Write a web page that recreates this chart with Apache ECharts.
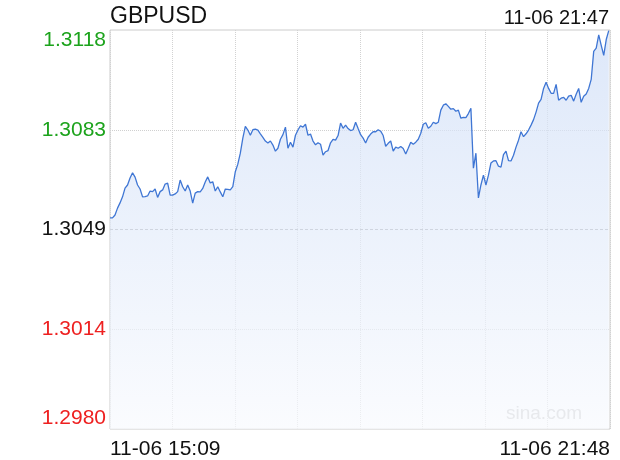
<!DOCTYPE html>
<html><head><meta charset="utf-8">
<script src="https://cdn.jsdelivr.net/npm/echarts@6/dist/echarts.min.js"></script>
<style>html,body{margin:0;padding:0;background:#fff}#c{width:620px;height:460px}</style>
</head><body><div id="c"></div>
<script>
const symbol = 'GBPUSD';
const updateTime = '11-06 21:47';
const xEndLabels = ['11-06 15:09', '11-06 21:48'];
const stepMinutes = 2;
const sessionMinutes = 399;
const yMin = 1.29802;
const yMax = 1.31182;
const yTickLabels = ['1.2980', '1.3014', '1.3049', '1.3083', '1.3118'];
const prices = [
  1.30532, 1.30532, 1.30542, 1.30566, 1.30584, 1.30605, 1.30635, 1.30646, 1.30670, 1.30688,
  1.30673, 1.30646, 1.30632, 1.30605, 1.30606, 1.30608, 1.30625, 1.30623, 1.30632, 1.30603,
  1.30623, 1.30629, 1.30649, 1.30652, 1.30611, 1.30611, 1.30615, 1.30623, 1.30663, 1.30640,
  1.30625, 1.30646, 1.30625, 1.30583, 1.30618, 1.30623, 1.30622, 1.30634, 1.30656, 1.30674,
  1.30653, 1.30657, 1.30625, 1.30640, 1.30622, 1.30605, 1.30632, 1.30631, 1.30629, 1.30640,
  1.30692, 1.30718, 1.30756, 1.30808, 1.30849, 1.30836, 1.30818, 1.30837, 1.30839, 1.30836,
  1.30823, 1.30811, 1.30798, 1.30791, 1.30798, 1.30784, 1.30763, 1.30773, 1.30804, 1.30820,
  1.30846, 1.30773, 1.30794, 1.30777, 1.30818, 1.30836, 1.30851, 1.30846, 1.30856, 1.30818,
  1.30822, 1.30798, 1.30785, 1.30792, 1.30787, 1.30749, 1.30761, 1.30765, 1.30792, 1.30804,
  1.30801, 1.30817, 1.30860, 1.30842, 1.30853, 1.30841, 1.30834, 1.30837, 1.30863, 1.30841,
  1.30820, 1.30808, 1.30791, 1.30811, 1.30822, 1.30830, 1.30830, 1.30837, 1.30832, 1.30817,
  1.30780, 1.30790, 1.30798, 1.30763, 1.30777, 1.30773, 1.30779, 1.30772, 1.30753, 1.30773,
  1.30794, 1.30787, 1.30794, 1.30804, 1.30825, 1.30856, 1.30861, 1.30842, 1.30849, 1.30863,
  1.30858, 1.30863, 1.30905, 1.30922, 1.30927, 1.30918, 1.30908, 1.30910, 1.30901, 1.30905,
  1.30877, 1.30880, 1.30879, 1.30893, 1.30911, 1.30704, 1.30756, 1.30601, 1.30646, 1.30680,
  1.30646, 1.30680, 1.30722, 1.30729, 1.30730, 1.30711, 1.30708, 1.30751, 1.30763, 1.30730,
  1.30729, 1.30749, 1.30777, 1.30801, 1.30830, 1.30813, 1.30823, 1.30836, 1.30853, 1.30872,
  1.30898, 1.30929, 1.30942, 1.30980, 1.31001, 1.30980, 1.30963, 1.30963, 1.30994, 1.30939,
  1.30946, 1.30949, 1.30939, 1.30953, 1.30956, 1.30936, 1.30960, 1.30980, 1.30932, 1.30953,
  1.30961, 1.30980, 1.31011, 1.31108, 1.31119, 1.31165, 1.31129, 1.31094, 1.31149, 1.31180
];

const FONT = '"Liberation Sans", Arial, Helvetica, sans-serif';
const seriesData = prices.map((p, i) => [i * stepMinutes, p]);

const chart = echarts.init(document.getElementById('c'), null, { renderer: 'canvas' });

chart.setOption({
  animation: false,
  backgroundColor: '#fff',
  textStyle: { fontFamily: FONT },
  title: [
    { text: symbol, left: 110, top: 5, padding: 0,
      textStyle: { fontSize: 23, fontWeight: 'normal', color: '#111', fontFamily: FONT } },
    { text: updateTime, right: 11, top: 8, padding: 0,
      textStyle: { fontSize: 20, fontWeight: 'normal', color: '#111', fontFamily: FONT } }
  ],
  grid: { left: 110, right: 10, top: 30, bottom: 31, show: true, borderColor: '#cccccc', borderWidth: 1, backgroundColor: 'transparent' },
  xAxis: {
    type: 'value', min: 0, max: sessionMinutes, interval: sessionMinutes / 8,
    axisLine: { show: false }, axisTick: { show: false },
    splitLine: { show: true, lineStyle: { color: '#d2d2d2', type: [1, 1] } },
    axisLabel: {
      showMinLabel: true, showMaxLabel: true,
      alignMinLabel: 'left', alignMaxLabel: 'right',
      fontSize: 21, color: '#111', margin: 10, fontFamily: FONT,
      formatter: function (v) {
        if (Math.abs(v) < 1e-6) return xEndLabels[0];
        if (Math.abs(v - sessionMinutes) < 1e-3) return xEndLabels[1];
        return '';
      }
    }
  },
  yAxis: [
    { type: 'value', min: yMin, max: yMax, show: false, splitLine: { show: false } },
    { type: 'value', min: 0, max: 4, interval: 1, position: 'left',
      axisLine: { show: false }, axisTick: { show: false },
      splitLine: { show: true, lineStyle: { color: ['rgba(0,0,0,0)', '#d0d0d0', 'rgba(0,0,0,0)', '#d0d0d0', 'rgba(0,0,0,0)'], type: [1, 1] } },
      axisLabel: {
        fontSize: 21, margin: 4, fontFamily: FONT,
        verticalAlignMinLabel: 'bottom', verticalAlignMaxLabel: 'top',
        formatter: function (v) { return yTickLabels[Math.round(v)]; },
        color: function (v) {
          const i = Math.round(v);
          return i > 2 ? '#1ca31c' : (i < 2 ? '#ee2020' : '#111');
        }
      }
    },
    { type: 'value', min: -1, max: 1, interval: 1, position: 'right',
      axisLine: { show: false }, axisTick: { show: false }, axisLabel: { show: false },
      splitLine: { show: true, lineStyle: { color: ['rgba(0,0,0,0)', '#a0a0a0', 'rgba(0,0,0,0)'], type: [3, 2] } }
    }
  ],
  graphic: [
    { type: 'text', left: 506, top: 404, silent: true,
      style: { text: 'sina.com', fill: '#c4c4c4', font: '19px ' + FONT } }
  ],
  series: [{
    type: 'line', yAxisIndex: 0, data: seriesData, showSymbol: false, symbol: 'none',
    lineStyle: { color: '#3f76d4', width: 1.3 },
    areaStyle: {
      color: { type: 'linear', x: 0, y: 30, x2: 0, y2: 429, global: true,
        colorStops: [{ offset: 0, color: '#cfdef7' }, { offset: 1, color: '#f8fafe' }] }
    },
    z: 3
  }]
});
</script></body></html>
